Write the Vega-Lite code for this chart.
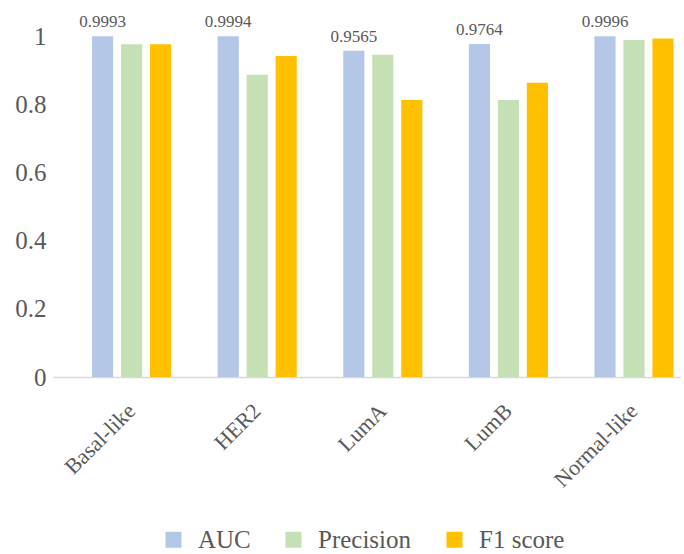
{
  "$schema": "https://vega.github.io/schema/vega-lite/v6.json",
  "width": 628,
  "height": 341,
  "padding": {"left": 14, "top": 13, "right": 0, "bottom": 5},
  "background": "white",
  "config": {
    "view": {"stroke": null},
    "font": "Liberation Serif, Times New Roman, serif"
  },
  "data": {
    "values": [
      {"type": "Basal-like", "metric": "AUC", "value": 0.9993},
      {"type": "Basal-like", "metric": "Precision", "value": 0.976},
      {"type": "Basal-like", "metric": "F1 score", "value": 0.976},
      {"type": "HER2", "metric": "AUC", "value": 0.9994},
      {"type": "HER2", "metric": "Precision", "value": 0.886},
      {"type": "HER2", "metric": "F1 score", "value": 0.941},
      {"type": "LumA", "metric": "AUC", "value": 0.9565},
      {"type": "LumA", "metric": "Precision", "value": 0.945},
      {"type": "LumA", "metric": "F1 score", "value": 0.812},
      {"type": "LumB", "metric": "AUC", "value": 0.9764},
      {"type": "LumB", "metric": "Precision", "value": 0.812},
      {"type": "LumB", "metric": "F1 score", "value": 0.863},
      {"type": "Normal-like", "metric": "AUC", "value": 0.9996},
      {"type": "Normal-like", "metric": "Precision", "value": 0.988},
      {"type": "Normal-like", "metric": "F1 score", "value": 0.993}
    ]
  },
  "encoding": {
    "x": {
      "field": "type",
      "type": "nominal",
      "sort": ["Basal-like", "HER2", "LumA", "LumB", "Normal-like"],
      "scale": {"paddingInner": 0.37, "paddingOuter": 0.185, "align": 0.84},
      "axis": {
        "title": null,
        "labelAngle": -45,
        "labelAlign": "right",
        "labelBaseline": "middle",
        "labelFontSize": 22,
        "labelColor": "#595959",
        "labelPadding": 30,
        "ticks": false,
        "domainColor": "#d9d9d9",
        "domainWidth": 1.5
      }
    },
    "xOffset": {
      "field": "metric",
      "type": "nominal",
      "sort": ["AUC", "Precision", "F1 score"],
      "scale": {"paddingInner": 0.27, "paddingOuter": 0}
    },
    "y": {
      "field": "value",
      "type": "quantitative",
      "scale": {"domain": [0, 1], "nice": false},
      "axis": {
        "title": null,
        "values": [0, 0.2, 0.4, 0.6, 0.8, 1],
        "format": "~g",
        "labelFontSize": 25,
        "labelColor": "#595959",
        "labelPadding": 7,
        "ticks": false,
        "domain": false,
        "grid": false
      }
    }
  },
  "layer": [
    {
      "mark": {"type": "bar"},
      "encoding": {
        "color": {
          "field": "metric",
          "type": "nominal",
          "sort": ["AUC", "Precision", "F1 score"],
          "scale": {
            "domain": ["AUC", "Precision", "F1 score"],
            "range": ["#B4C7E7", "#C5E0B4", "#FFC000"]
          },
          "legend": {
            "title": null,
            "orient": "none",
            "legendX": 108,
            "legendY": 491,
            "direction": "horizontal",
            "symbolType": "square",
            "symbolSize": 256,
            "symbolStrokeWidth": 0,
            "labelFontSize": 25,
            "labelColor": "#595959",
            "labelOffset": 12,
            "columnPadding": 30
          }
        }
      }
    },
    {
      "transform": [{"filter": "datum.metric == 'AUC'"}],
      "mark": {"type": "text", "dy": -5, "baseline": "bottom", "fontSize": 17, "color": "#595959"},
      "encoding": {
        "text": {"field": "value", "type": "quantitative", "format": ".4f"}
      }
    }
  ]
}
